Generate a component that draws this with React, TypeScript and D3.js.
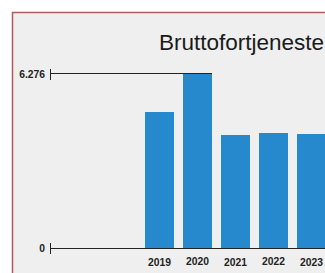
import React from 'react';
import * as d3 from 'd3';

const years = ['2019', '2020', '2021', '2022', '2023'];
const values = [4.905, 6.276, 4.076, 4.148, 4.112];
const yTicks = [0, 6.276];
const title = 'Bruttofortjeneste';

const App = () => {
  const y = d3.scaleLinear().domain([0, 6.276]).range([248, 74]);
  const x = d3.scaleBand().domain(years).range([136, 335]).padding(0.237);
  const fmt = (v: number) => (v === 0 ? '0' : v.toFixed(3));
  const maxVal = d3.max(values) as number;
  const maxYear = years[values.indexOf(maxVal)];

  return (
    <svg
      width={325}
      height={273}
      style={{ position: 'absolute', left: 0, top: 0, fontFamily: 'Liberation Sans, Arial, sans-serif' }}
    >
      <rect x={12.5} y={12.5} width={330} height={280} fill="#eeefee" stroke="#b35a5a" strokeWidth={1.5} />
      <text x={159} y={50} fontSize={22.5} fill="#1a1a1a">
        {title}
      </text>
      {yTicks.map((t) => (
        <g key={t}>
          <text x={45} y={y(t) + 3.5} textAnchor="end" fontSize={10.3} fontWeight="bold" fill="#222">
            {fmt(t)}
          </text>
          <line x1={50.5} x2={50.5} y1={y(t) - 5} y2={y(t) + 6} stroke="#222" strokeWidth={1} />
        </g>
      ))}
      <line x1={50} x2={325} y1={y(0) + 0.5} y2={y(0) + 0.5} stroke="#222" strokeWidth={1} />
      <line
        x1={50}
        x2={(x(maxYear) as number) + x.bandwidth()}
        y1={y(maxVal) - 0.5}
        y2={y(maxVal) - 0.5}
        stroke="#222"
        strokeWidth={1}
      />
      {years.map((yr, i) => (
        <g key={yr}>
          <rect
            x={x(yr)}
            y={y(values[i])}
            width={x.bandwidth()}
            height={y(0) - y(values[i])}
            fill="#2789cd"
          />
          <text
            x={(x(yr) as number) + x.bandwidth() / 2}
            y={i % 2 === 0 ? 265.5 : 264.5}
            textAnchor="middle"
            fontSize={10.3}
            fontWeight="bold"
            fill="#222"
          >
            {yr}
          </text>
        </g>
      ))}
    </svg>
  );
};

export default App;
